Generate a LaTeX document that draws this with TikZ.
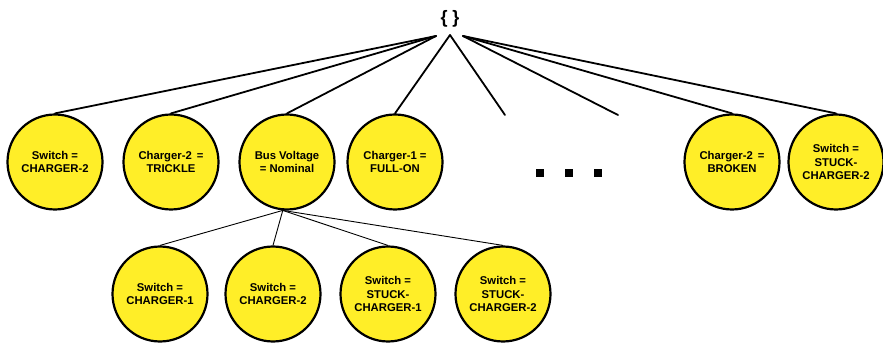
\documentclass[tikz,border=0pt]{standalone}
\usepackage{fontspec}
\setmainfont{Liberation Sans}
\begin{document}
\begin{tikzpicture}[x=1pt,y=-1pt,
  state/.style={circle, draw=black, line width=2.2pt, fill=stateyellow,
    minimum size=95pt, inner sep=0pt, align=center,
    font=\fontsize{11.3}{13.8}\selectfont\bfseries},
  branch/.style={line width=1.8pt, line cap=round},
  subbranch/.style={line width=0.9pt},
  dot/.style={fill=black, minimum size=8pt, inner sep=0pt, rectangle}]
\definecolor{stateyellow}{RGB}{255,238,40}
\useasboundingbox (0,0) rectangle (883,344);

% root of the search tree
\node (root) at (450,19) {\fontsize{18}{18}\selectfont\bfseries\{\ \}};
\coordinate (rootL) at (436,36);
\coordinate (rootM) at (450,35);
\coordinate (rootR) at (463,36);

% first level
\node[state] (c1) at (55,162) {Switch =\\CHARGER-2};
\node[state] (c2) at (171,162) {Charger-2 \,=\\TRICKLE};
\node[state] (c3) at (287,162) {Bus Voltage\\= Nominal};
\node[state] (c4) at (395,162) {Charger-1 =\\FULL-ON};
\node[state] (c5) at (732,162) {Charger-2 \,=\\BROKEN};
\node[state] (c6) at (836,162) {Switch =\\STUCK-\\CHARGER-2};

% elided siblings
\node[dot] (d1) at (540,173) {};
\node[dot] (d2) at (569,173) {};
\node[dot] (d3) at (598,173) {};
\coordinate (e1) at (505,115);
\coordinate (e2) at (618,115);

% second level under Bus Voltage
\node[state] (s1) at (160,294) {Switch =\\CHARGER-1};
\node[state] (s2) at (273,294) {Switch =\\CHARGER-2};
\node[state] (s3) at (388,294) {Switch =\\STUCK-\\CHARGER-1};
\node[state] (s4) at (503,294) {Switch =\\STUCK-\\CHARGER-2};

% connectors from the root
\draw[branch] (rootL) -- (c1.north);
\draw[branch] (rootL) -- (c2.north);
\draw[branch] (rootL) -- (c3.north);
\draw[branch] (rootM) -- (c4.north);
\draw[branch] (rootM) -- (e1);
\draw[branch] (rootR) -- (e2);
\draw[branch] (rootR) -- (c5.north);
\draw[branch] (rootR) -- (c6.north);

% connectors below Bus Voltage
\draw[subbranch] (c3.265) -- (s1.north);
\draw[subbranch] (c3.265) -- (s2.north);
\draw[subbranch] (c3.265) -- (s3.north);
\draw[subbranch] (c3.265) -- (s4.north);
\end{tikzpicture}
\end{document}
